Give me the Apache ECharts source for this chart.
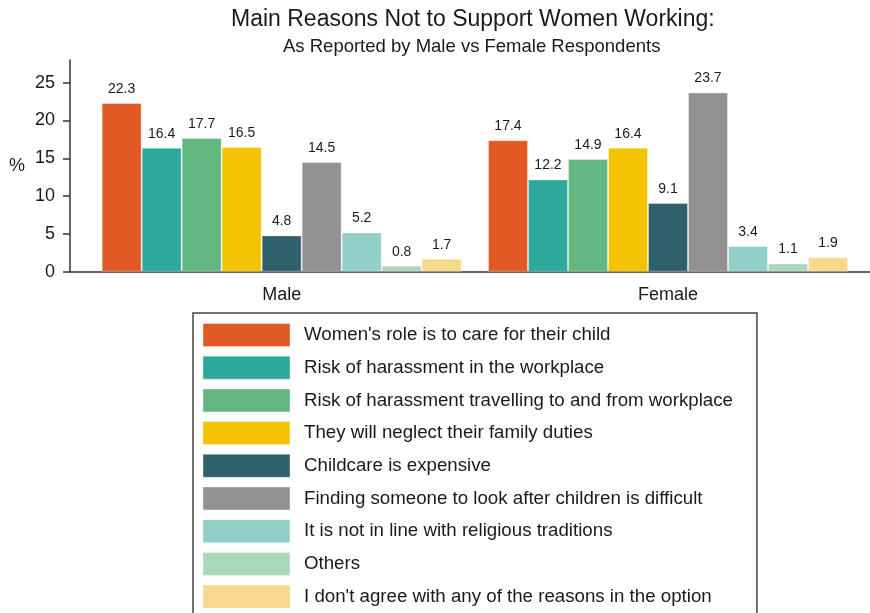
<!DOCTYPE html>
<html>
<head>
<meta charset="utf-8">
<title>Main Reasons Not to Support Women Working</title>
<script src="https://cdn.jsdelivr.net/npm/echarts@6/dist/echarts.min.js"></script>
<style>
  html, body { margin: 0; padding: 0; background: #fff; }
  #chart { width: 870px; height: 613px; }
</style>
</head>
<body>
<div id="chart"></div>
<script>
// Respondent groups on the x axis
const categories = ['Male', 'Female'];

// Reasons, one bar series each
const reasons = [
  "Women's role is to care for their child",
  'Risk of harassment in the workplace',
  'Risk of harassment travelling to and from workplace',
  'They will neglect their family duties',
  'Childcare is expensive',
  'Finding someone to look after children is difficult',
  'It is not in line with religious traditions',
  'Others',
  "I don't agree with any of the reasons in the option"
];

// Share of respondents (%) per reason
const maleValues = [22.3, 16.4, 17.7, 16.5, 4.8, 14.5, 5.2, 0.8, 1.7];
const femaleValues = [17.4, 12.2, 14.9, 16.4, 9.1, 23.7, 3.4, 1.1, 1.9];

// Y axis tick labels
const yTicks = [0, 5, 10, 15, 20, 25];

const colors = [
  '#E15A26', '#2EA99E', '#62B77F', '#F3C300', '#2E616C',
  '#929292', '#93CFC9', '#A9D7B8', '#F8D88A'
];

const FONT = 'Arial, "Liberation Sans", Helvetica, sans-serif';
const INK = '#1a1a1a';
const AXIS = '#333';

const series = reasons.map((name, i) => ({
  name: name,
  type: 'bar',
  xAxisIndex: 0,
  yAxisIndex: 0,
  barWidth: 40,
  barGap: '0%',
  data: [maleValues[i], femaleValues[i]],
  itemStyle: {
    color: colors[i],
    borderColor: 'rgba(255,255,255,0.35)',
    borderWidth: 1
  },
  label: {
    show: true,
    position: 'top',
    distance: 7,
    fontFamily: FONT,
    fontSize: 14,
    color: INK,
    formatter: p => p.value.toFixed(1)
  },
  emphasis: { disabled: true }
}));

const chart = echarts.init(document.getElementById('chart'), null, { renderer: 'canvas' });

chart.setOption({
  animation: false,
  backgroundColor: '#fff',
  color: colors,
  title: [
    {
      text: 'Main Reasons Not to Support Women Working:',
      left: 231,
      top: 8,
      padding: 0,
      textStyle: { fontFamily: FONT, fontSize: 23, fontWeight: 'normal', color: INK }
    },
    {
      text: 'As Reported by Male vs Female Respondents',
      left: 283,
      top: 37,
      padding: 0,
      textStyle: { fontFamily: FONT, fontSize: 18.5, fontWeight: 'normal', color: INK }
    }
  ],
  legend: {
    orient: 'vertical',
    left: 193,
    top: 313,
    height: 330,
    padding: [10, 24, 14, 9.5],
    itemWidth: 87,
    itemHeight: 23,
    itemGap: 8.7,
    icon: 'rect',
    borderColor: '#444',
    borderWidth: 1.5,
    selectedMode: false,
    itemStyle: { borderColor: 'rgba(255,255,255,0.35)', borderWidth: 1 },
    textStyle: {
      fontFamily: FONT,
      fontSize: 18.7,
      lineHeight: 22,
      color: INK,
      padding: [0, 0, 0, 9]
    },
    data: reasons
  },
  grid: [
    // plotting grid: categories placed so the groups sit off-centre as drawn
    { left: 88.5, right: 8.85, top: 60, bottom: 341.3, containLabel: false },
    // full-width frame carrying the baseline
    { left: 70, right: 0, top: 60, bottom: 341.3, containLabel: false }
  ],
  xAxis: [
    {
      type: 'category',
      gridIndex: 0,
      data: categories,
      axisLine: { show: false },
      axisTick: { show: false },
      axisLabel: { fontFamily: FONT, fontSize: 18, color: INK, margin: 14 }
    },
    {
      type: 'category',
      gridIndex: 1,
      data: [''],
      axisLine: { show: true, lineStyle: { color: AXIS, width: 1.5 } },
      axisTick: { show: false },
      axisLabel: { show: false }
    }
  ],
  yAxis: [
    {
      type: 'value',
      gridIndex: 0,
      min: 0,
      max: 28,
      interval: 5,
      offset: 18.5,
      name: '%',
      nameLocation: 'middle',
      nameRotate: 0,
      nameGap: 45,
      nameTextStyle: { fontFamily: FONT, fontSize: 18, color: INK },
      axisLine: { show: true, lineStyle: { color: AXIS, width: 1.5 } },
      axisTick: { show: true, length: 7, customValues: yTicks, lineStyle: { color: AXIS, width: 1.5 } },
      axisLabel: { fontFamily: FONT, fontSize: 18, color: INK, margin: 15, customValues: yTicks },
      splitLine: { show: false }
    },
    {
      type: 'value',
      gridIndex: 1,
      min: 0,
      max: 28,
      show: false
    }
  ],
  series: series
});
</script>
</body>
</html>
